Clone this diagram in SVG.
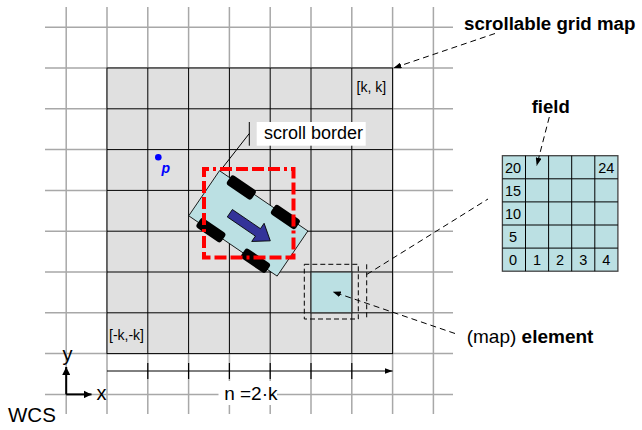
<svg xmlns="http://www.w3.org/2000/svg" width="642" height="430" viewBox="0 0 642 430">
  <style>
    .lbl { font-family: "Liberation Sans", Arial, sans-serif; fill: #000; }
    .b { font-weight: bold; }
    .gridOut { stroke: #a8a8a8; stroke-width: 1.5; fill: none; }
    .gridIn { stroke: #000; stroke-width: 1; fill: none; }
    .lead { stroke: #000; stroke-width: 1; fill: none; stroke-dasharray: 6 4; }
    .cyan { fill: #bbe0e3; }
    .wheel { fill: #000; }
    .num { font-family: "Liberation Sans", Arial, sans-serif; font-size: 14.5px; text-anchor: middle; }
  </style>
  <defs>
    <marker id="ah" viewBox="0 0 8 6" markerWidth="8" markerHeight="6" refX="8" refY="3" orient="auto" markerUnits="userSpaceOnUse">
      <path d="M0,0 L8,3 L0,6 z" fill="#000"/>
    </marker>
    <marker id="ahAxis" viewBox="0 0 8 8" markerWidth="8" markerHeight="8" refX="8" refY="4" orient="auto" markerUnits="userSpaceOnUse">
      <path d="M0,0 L8,4 L0,8 z" fill="#000"/>
    </marker>
  </defs>

  <rect width="642" height="430" fill="#fff"/>

  <!-- background grid (outer, light) -->
  <g id="grid-outer" class="gridOut">
    <path d="M66.2,7V414 M107,7V414 M147.8,7V414 M188.6,7V414 M229.4,7V414 M270.2,7V414 M311,7V414 M351.8,7V414 M392.6,7V414 M433.4,7V414"/>
    <path d="M45,27.2H453 M45,68H453 M45,108.8H453 M45,149.6H453 M45,190.4H453 M45,231.2H453 M45,272H453 M45,312.8H453 M45,353.6H453 M45,394.4H453"/>
  </g>

  <!-- scrollable grid map area -->
  <g id="grid-map">
    <rect x="107" y="68" width="285.6" height="285.6" fill="#e0e0e0" stroke="#000" stroke-width="1"/>
    <path class="gridIn" d="M147.8,68V353.6 M188.6,68V353.6 M229.4,68V353.6 M270.2,68V353.6 M311,68V353.6 M351.8,68V353.6"/>
    <path class="gridIn" d="M107,108.8H392.6 M107,149.6H392.6 M107,190.4H392.6 M107,231.2H392.6 M107,272H392.6 M107,312.8H392.6"/>
    <text class="lbl" x="356.5" y="92" font-size="14">[k, k]</text>
    <text class="lbl" x="109" y="339.5" font-size="14">[-k,-k]</text>
  </g>

  <!-- point p -->
  <g id="point-p">
    <circle cx="158.3" cy="157.2" r="3.3" fill="#0000ff"/>
    <text class="lbl b" x="161.5" y="172.5" font-size="14" font-style="italic" style="fill:#0000ff">p</text>
  </g>

  <!-- map element -->
  <g id="element">
    <rect class="cyan" x="311" y="272" width="40.8" height="40.8" stroke="#333" stroke-width="1.2"/>
    <rect x="304.3" y="264.3" width="54" height="54.7" fill="none" stroke="#000" stroke-width="1" stroke-dasharray="5 3"/>
    <path d="M366.7,264.3V319" stroke="#000" stroke-width="1" stroke-dasharray="5 3"/>
  </g>

  <!-- scroll border label -->
  <g id="scroll-border-label">
    <path d="M249.3,122V145.7 M249.3,133.5L220,171" stroke="#000" stroke-width="1" fill="none"/>
    <rect x="256.7" y="122" width="109" height="23.7" fill="#fff"/>
    <text class="lbl" x="264" y="139" font-size="18">scroll border</text>
  </g>

  <!-- vehicle -->
  <g id="vehicle" transform="translate(248.3 223.4) rotate(34.3)">
    <rect class="cyan" x="-53.5" y="-27.3" width="107" height="54.6" stroke="#000" stroke-width="0.8"/>
    <rect class="wheel" x="-41" y="-31.5" width="30" height="11.5" rx="3"/>
    <rect class="wheel" x="12" y="-32" width="30" height="11.5" rx="3"/>
    <rect class="wheel" x="-42" y="21" width="30" height="11.5" rx="3"/>
    <rect class="wheel" x="12" y="21" width="30" height="11.5" rx="3"/>
    <path d="M-21,-2.5 L13,-2.5 L13,-9 L28,2 L13,13 L13,6.5 L-21,6.5 Z" fill="#333399" stroke="#000" stroke-width="0.8"/>
  </g>

  <!-- scroll border -->
  <g id="scroll-border">
    <rect x="204" y="169" width="89.5" height="88.5" fill="none" stroke="#ff0000" stroke-width="4" stroke-dasharray="12 4 12 4 12 4 12 4 3 4" stroke-dashoffset="-16"/>
  </g>

  <!-- field grid -->
  <g id="field">
    <rect class="cyan" x="502.4" y="155.7" width="115.5" height="115.5" stroke="#444" stroke-width="1.3"/>
    <path d="M525.5,155.7V271.2 M548.6,155.7V271.2 M571.7,155.7V271.2 M594.8,155.7V271.2 M502.4,178.8H617.9 M502.4,201.9H617.9 M502.4,225H617.9 M502.4,248.1H617.9" stroke="#000" stroke-width="1" fill="none"/>
    <text class="num" x="513" y="172.8">20</text>
    <text class="num" x="606.3" y="172.8">24</text>
    <text class="num" x="513" y="195.9">15</text>
    <text class="num" x="513" y="219">10</text>
    <text class="num" x="513" y="242.1">5</text>
    <text class="num" x="513" y="265.2">0</text>
    <text class="num" x="537" y="265.2">1</text>
    <text class="num" x="560" y="265.2">2</text>
    <text class="num" x="583.2" y="265.2">3</text>
    <text class="num" x="606.3" y="265.2">4</text>
  </g>

  <!-- dimension n = 2k -->
  <g id="dimension">
    <path d="M107,371H392.6" stroke="#000" stroke-width="1" marker-end="url(#ah)"/>
    <path d="M147.8,363V379 M188.6,363V379 M229.4,363V379 M270.2,363V379 M311,363V379 M351.8,363V379" stroke="#000" stroke-width="1.2"/>
    <rect x="218.5" y="381" width="58.5" height="24" fill="#fff"/>
    <text class="lbl" x="250.8" y="400" font-size="19" text-anchor="middle">n =2·k</text>
  </g>

  <!-- world coordinate system -->
  <g id="wcs">
    <path d="M66.2,394.4V367" stroke="#000" stroke-width="2" marker-end="url(#ahAxis)"/>
    <path d="M66.2,394.4H91.5" stroke="#000" stroke-width="2" marker-end="url(#ahAxis)"/>
    <text class="lbl" x="62.5" y="361" font-size="20">y</text>
    <text class="lbl" x="96.5" y="400" font-size="20">x</text>
    <text class="lbl" x="8" y="422" font-size="20.5">WCS</text>
  </g>

  <!-- labels -->
  <g id="label-map">
    <text class="lbl b" x="464" y="30" font-size="18.7">scrollable grid map</text>
  </g>
  <g id="label-field">
    <text class="lbl b" x="531.7" y="113.3" font-size="18.5">field</text>
  </g>
  <g id="label-element">
    <text class="lbl" x="466.7" y="343" font-size="19">(map) <tspan class="b">element</tspan></text>
  </g>

  <!-- connectors -->
  <g id="connectors">
    <path class="lead" d="M495,33.5L393.5,68" marker-end="url(#ah)"/>
    <path class="lead" d="M549.3,117L536.7,165.7" marker-end="url(#ah)"/>
    <path class="lead" d="M455,333.5L332.7,291.7" marker-end="url(#ah)"/>
    <path class="lead" d="M366.7,274.5L488,199"/>
  </g>
</svg>
